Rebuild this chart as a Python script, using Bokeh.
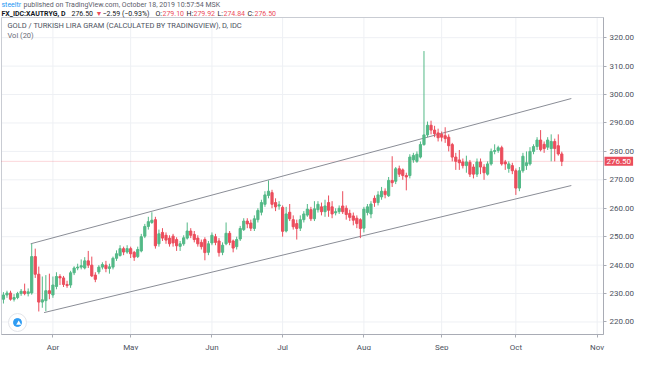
import numpy as np
import pandas as pd
from bokeh.plotting import figure
from bokeh.models import Range1d, FixedTicker, Label, NumeralTickFormatter, ColumnDataSource, LinearAxis
from bokeh.embed import file_html
from bokeh.resources import INLINE

# ---------------- data ----------------
start_date = "2019-03-12"
end_date = "2019-10-18"
dates = pd.bdate_range(start_date, end_date)

opens = [228.0, 229.5, 230.2, 228.0, 228.6, 230.0, 230.8, 230.0, 230.2, 243.0,
         236.8, 227.0, 227.5, 231.0, 229.5, 232.5, 236.0, 235.5, 233.2, 233.0,
         237.3, 239.0, 239.3, 239.0, 241.5, 240.0, 236.5, 237.6, 239.3, 240.0,
         238.8, 239.3, 242.4, 243.4, 245.8, 244.6, 245.8, 244.5, 243.0, 245.0,
         250.2, 253.6, 255.0, 256.0, 247.5, 251.5, 250.5, 249.5, 250.2, 249.0,
         246.6, 247.5, 249.5, 252.0, 250.8, 249.5, 248.0, 249.0, 244.5, 247.8,
         250.0, 248.5, 244.5, 247.5, 251.2, 248.5, 246.5, 249.2, 252.5, 255.5,
         254.8, 252.9, 256.0, 258.6, 261.4, 264.5, 265.5, 262.0, 260.8, 260.3,
         252.0, 258.6, 256.0, 254.6, 253.0, 256.0, 257.6, 259.5, 256.3, 259.5,
         260.5, 258.8, 262.0, 260.5, 258.4, 258.8, 260.8, 260.0, 258.2, 257.3,
         256.5, 256.0, 253.0, 258.5, 258.0, 263.5, 262.0, 264.0, 266.0, 264.4,
         269.8, 269.5, 273.9, 273.5, 271.5, 271.5, 277.0, 276.5, 278.0, 282.4,
         285.8, 289.2, 287.5, 286.5, 286.0, 285.5, 285.0, 282.4, 278.0, 277.0,
         276.3, 275.0, 276.2, 274.5, 272.0, 276.3, 274.5, 272.0, 275.6, 280.0,
         280.3, 281.3, 276.3, 274.0, 275.0, 273.2, 267.1, 273.2, 275.0, 275.6,
         280.0, 281.7, 284.0, 282.5, 281.5, 281.0, 283.5, 282.0, 279.10]

closes = [229.5, 230.2, 228.0, 228.6, 230.0, 230.8, 230.0, 230.6, 243.0, 236.8,
          227.0, 227.8, 231.0, 230.0, 233.0, 236.0, 235.5, 233.2, 232.8, 237.3,
          239.0, 239.3, 239.8, 241.5, 240.0, 236.2, 235.0, 239.3, 240.2, 238.8,
          239.4, 242.4, 244.0, 245.8, 244.6, 245.8, 244.0, 242.8, 245.5, 250.0,
          253.6, 255.3, 255.8, 246.8, 251.0, 249.5, 248.8, 247.5, 247.8, 246.8,
          247.5, 249.6, 252.0, 250.5, 249.0, 247.5, 246.5, 244.4, 247.5, 250.5,
          248.0, 244.4, 247.0, 251.2, 248.0, 246.0, 249.0, 252.9, 255.5, 254.5,
          253.0, 256.3, 259.2, 262.0, 264.7, 266.0, 261.4, 260.5, 261.2, 251.9,
          258.0, 256.3, 253.5, 252.9, 256.0, 258.0, 259.7, 256.3, 259.8, 261.4,
          258.8, 260.8, 259.3, 258.0, 258.8, 260.0, 258.8, 257.8, 256.8, 255.8,
          254.6, 252.9, 259.7, 260.5, 261.5, 262.0, 264.7, 266.0, 264.8, 269.8,
          269.0, 273.9, 272.0, 271.5, 271.0, 278.0, 278.6, 279.0, 282.4, 285.8,
          289.2, 287.5, 286.2, 284.8, 285.0, 284.5, 282.0, 278.0, 276.5, 276.0,
          275.0, 276.3, 272.0, 272.0, 276.3, 274.5, 272.5, 275.6, 280.0, 280.3,
          281.3, 275.6, 275.6, 275.6, 273.2, 267.1, 273.2, 278.3, 276.0, 280.0,
          281.7, 284.0, 280.6, 281.0, 284.0, 283.5, 281.0, 279.1, 276.50]

highs = [230.5, 231.0, 231.0, 229.8, 230.6, 231.6, 233.5, 231.8, 247.5, 245.8,
         239.5, 236.0, 236.5, 237.0, 236.0, 237.5, 236.8, 236.2, 234.5, 238.0,
         239.6, 240.5, 242.0, 242.8, 245.0, 243.0, 237.5, 240.0, 241.0, 241.5,
         240.5, 243.0, 245.2, 247.0, 246.5, 247.0, 246.5, 245.0, 246.5, 251.0,
         254.5, 257.0, 258.6, 257.0, 252.5, 253.0, 251.5, 250.5, 251.0, 249.8,
         248.5, 250.5, 255.0, 253.0, 252.0, 250.5, 249.0, 249.8, 248.5, 251.5,
         251.0, 249.5, 248.0, 255.0, 252.0, 249.0, 250.0, 253.8, 256.5, 256.5,
         256.0, 257.5, 260.0, 263.0, 266.0, 269.8, 266.5, 263.5, 262.5, 261.0,
         260.5, 261.5, 257.5, 256.0, 257.5, 259.0, 261.5, 260.5, 262.5, 262.5,
         262.0, 263.0, 264.5, 262.5, 260.0, 261.0, 266.0, 261.0, 259.5, 258.5,
         257.5, 256.5, 260.5, 261.5, 262.5, 264.5, 266.0, 267.5, 267.0, 271.0,
         278.3, 274.5, 275.0, 274.0, 272.5, 279.0, 279.5, 280.0, 283.5, 315.3,
         290.5, 290.8, 289.0, 288.0, 287.0, 288.5, 286.0, 283.0, 279.5, 280.5,
         277.5, 278.5, 277.0, 275.5, 277.5, 277.5, 275.5, 276.5, 281.0, 282.5,
         282.0, 282.0, 277.0, 276.5, 276.0, 274.0, 274.5, 279.5, 280.0, 281.5,
         282.5, 285.0, 287.5, 283.5, 285.0, 286.0, 284.5, 286.0, 279.92]

lows = [226.5, 228.5, 227.5, 227.2, 228.0, 229.2, 229.4, 229.0, 229.6, 235.5,
        223.7, 225.0, 223.8, 228.0, 228.5, 231.5, 233.0, 232.3, 232.0, 232.0,
        236.5, 238.2, 238.5, 238.5, 239.0, 235.8, 234.0, 236.8, 238.5, 237.5,
        237.0, 238.5, 241.5, 243.0, 243.5, 244.0, 242.5, 241.5, 242.5, 244.5,
        249.5, 252.5, 254.5, 245.8, 246.5, 248.5, 247.5, 246.5, 246.5, 245.0,
        245.0, 246.8, 249.0, 249.5, 248.0, 246.5, 245.5, 241.7, 243.5, 247.0,
        247.0, 243.0, 243.5, 247.0, 247.0, 244.5, 245.5, 248.5, 252.0, 253.0,
        252.0, 252.0, 255.0, 257.5, 260.5, 263.5, 260.0, 259.0, 259.5, 250.0,
        251.5, 255.5, 252.5, 249.0, 252.0, 255.0, 257.0, 255.5, 255.5, 258.5,
        257.5, 257.0, 257.0, 256.5, 257.5, 258.0, 258.0, 256.0, 255.5, 254.0,
        253.0, 249.5, 251.5, 257.5, 256.5, 260.5, 261.0, 263.0, 263.5, 264.0,
        267.5, 268.5, 271.0, 270.0, 266.3, 270.5, 276.0, 276.0, 277.5, 282.0,
        285.0, 286.0, 285.0, 283.5, 283.5, 283.0, 280.0, 276.5, 273.5, 273.5,
        274.0, 272.5, 271.0, 270.5, 271.0, 272.0, 270.0, 271.5, 275.0, 279.0,
        279.5, 275.0, 273.5, 272.5, 272.0, 264.7, 266.0, 272.5, 273.5, 275.0,
        279.0, 280.5, 280.0, 279.5, 280.5, 276.5, 276.5, 278.5, 274.84]

last_price = 276.50
month_labels = ["Apr", "May", "Jun", "Jul", "Aug", "Sep", "Oct", "Nov"]
month_starts = ["2019-04-01", "2019-05-01", "2019-06-03", "2019-07-01",
                "2019-08-01", "2019-09-02", "2019-10-01", "2019-11-01"]
price_ticks = [220, 230, 240, 250, 260, 270, 280, 290, 300, 310, 320]

# trend channel drawn on the chart (bar index, price)
channel_upper_x = [7.7, 160.7]
channel_upper_y = [247.5, 298.6]
channel_lower_x = [11.5, 160.7]
channel_lower_y = [223.3, 268.0]

# ---------------- layout / styling ----------------
UP = "#53b987"
DOWN = "#eb4d5c"
FONT = "Roboto"
FIG_W, FIG_H = 638, 350
PANE_L_PX, PANE_R_PX, PANE_T_PX, PANE_B_PX = 1, 603, 17, 334
PANE_X0, PANE_X1 = -0.55, 169.8
PANE_Y0, PANE_Y1 = 215.6, 327.1

sx = (PANE_X1 - PANE_X0) / (PANE_R_PX - PANE_L_PX)
sy = (PANE_Y1 - PANE_Y0) / (PANE_B_PX - PANE_T_PX)
x_start = PANE_X0 - PANE_L_PX * sx
x_end = PANE_X1 + (FIG_W - PANE_R_PX) * sx
y_end = PANE_Y1 + PANE_T_PX * sy
y_start = PANE_Y0 - (FIG_H - PANE_B_PX) * sy

idx = np.arange(len(dates))
o = np.array(opens); c = np.array(closes)
colors = [UP if cc >= oo else DOWN for oo, cc in zip(o, c)]
src = ColumnDataSource(dict(x=idx, o=o, c=c, h=highs, l=lows,
                            top=np.maximum(o, c), bottom=np.minimum(o, c), color=colors))

month_pos = [int(np.busday_count(start_date, d)) for d in month_starts]

p = figure(width=FIG_W, height=FIG_H, output_backend="svg", toolbar_location=None,
           x_range=Range1d(x_start, x_end), y_range=Range1d(y_start, y_end),
           x_axis_location=None, y_axis_location=None, min_border=0)
p.background_fill_color = "white"
p.border_fill_color = "white"
p.outline_line_color = None
p.grid.visible = False

GRID = "#eef0f4"
AX = "#a9acb5"
# grid lines (inside the pane only)
p.segment(x0=month_pos, y0=PANE_Y0, x1=month_pos, y1=PANE_Y1, line_color=GRID, line_width=1)
p.segment(x0=PANE_X0, y0=price_ticks, x1=PANE_X1, y1=price_ticks, line_color=GRID, line_width=1)
# pane box
p.quad(left=PANE_X0, right=PANE_X1, bottom=PANE_Y0, top=PANE_Y1,
       fill_color=None, line_color="#c9ccd3", line_width=1)

# axes drawn at fixed locations on the pane edges
xaxis = LinearAxis(fixed_location=PANE_Y0, bounds=(PANE_X0, PANE_X1),
                   ticker=FixedTicker(ticks=month_pos),
                   major_label_overrides={pos: lab for pos, lab in zip(month_pos, month_labels)})
yaxis = LinearAxis(fixed_location=PANE_X1, bounds=(PANE_Y0, PANE_Y1),
                   ticker=FixedTicker(ticks=price_ticks),
                   formatter=NumeralTickFormatter(format="0.00"))
for ax in (xaxis, yaxis):
    ax.axis_line_color = AX
    ax.major_tick_line_color = AX
    ax.minor_tick_line_color = None
    ax.major_tick_in = 0
    ax.major_tick_out = 3
    ax.major_label_text_font = FONT
    ax.major_label_text_font_size = "8px"
    ax.major_label_text_color = "#4c525e"
xaxis.major_label_standoff = 5
yaxis.major_label_standoff = 3
p.add_layout(xaxis, "below")
p.add_layout(yaxis, "right")

# last price line
p.segment(x0=PANE_X0, y0=last_price, x1=PANE_X1, y1=last_price, line_color=DOWN,
          line_alpha=0.45, line_dash="1 1", line_width=1)

# channel
p.line(channel_upper_x, channel_upper_y, line_color="#8a8d96", line_width=1)
p.line(channel_lower_x, channel_lower_y, line_color="#8a8d96", line_width=1)

# candles
p.segment(x0="x", y0="l", x1="x", y1="h", color="color", line_width=1, source=src)
p.vbar(x="x", width=0.62, top="top", bottom="bottom", fill_color="color",
       line_color="color", line_width=1, source=src)

# price label on axis
p.add_layout(Label(x=PANE_X1, y=last_price, x_units="data", y_units="data", x_offset=1,
                   text="276.50", text_font=FONT, text_font_size="8px",
                   text_color="white", text_baseline="middle",
                   background_fill_color=DOWN, padding=2))

# TradingView logo badge (bottom-left of pane)
logo_x = PANE_X0 + 16 * sx
logo_y = PANE_Y0 + 12 * sy
p.scatter([logo_x], [logo_y], marker="circle", size=18, fill_color="white",
          line_color="#e3e5ea", line_width=1)
p.scatter([logo_x], [logo_y], marker="circle", size=8, fill_color="#2e9cf3",
          line_color="#2e9cf3")
p.scatter([logo_x + 1.2 * sx], [logo_y - 0.8 * sy], marker="triangle", size=5,
          fill_color="white", line_color=None)


def txt(x, fig_y, text, color, bold=False, size="7px"):
    p.add_layout(Label(x=x, y=FIG_H - fig_y, x_units="screen", y_units="screen",
                       text=text, text_font=FONT, text_font_size=size,
                       text_color=color, text_baseline="middle",
                       text_font_style="bold" if bold else "normal"))


# header line 1
txt(1, 4, "steeltr", "#2196f3")
txt(23, 4, "published on TradingView.com, October 18, 2019 10:57:54 MSK", "#5d606b")
# header line 2
txt(1, 13, "FX_IDC:XAUTRYG, D", "#131722", bold=True)
txt(71, 13, "276.50", "#131722")
txt(95, 13, "\u25bc", DOWN)
txt(102, 13, "\u22122.59 (\u22120.93%)", "#131722")
txt(155, 13, "O:", "#131722")
txt(162, 13, "279.10", DOWN)
txt(186, 13, "H:", "#131722")
txt(193, 13, "279.92", DOWN)
txt(217, 13, "L:", "#131722")
txt(223, 13, "274.84", DOWN)
txt(247, 13, "C:", "#131722")
txt(254, 13, "276.50", DOWN)
# pane legend
txt(7, 25, "GOLD / TURKISH LIRA GRAM (CALCULATED BY TRADINGVIEW), D, IDC", "#4c525e", size="7.5px")
txt(7, 35, "Vol (20)", "#6a6d78", size="7.5px")

open("out.html", "w").write(file_html(p, INLINE))
